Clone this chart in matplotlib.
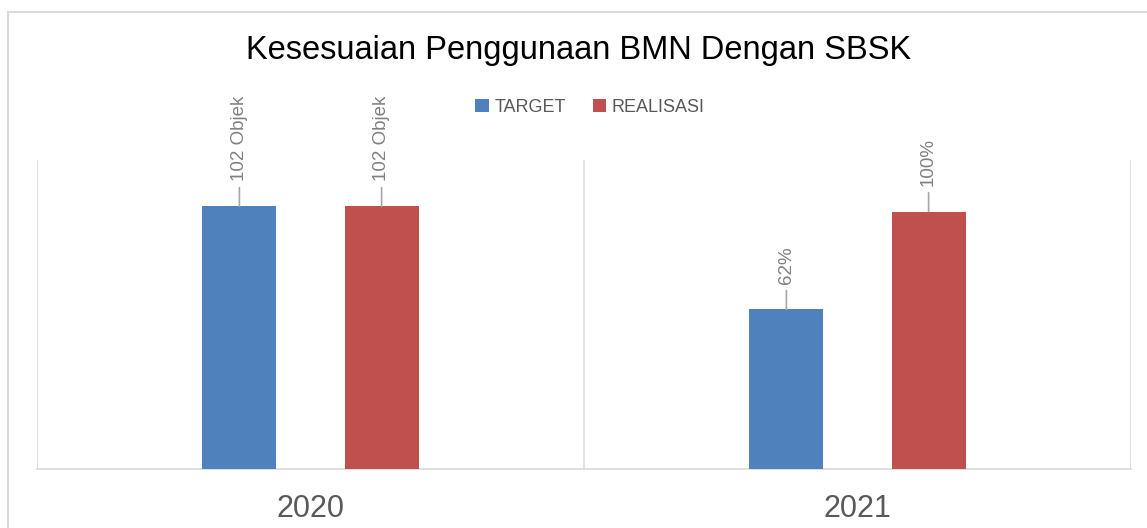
import matplotlib
matplotlib.use("Agg")
import matplotlib.pyplot as plt
from matplotlib.patches import Rectangle
import numpy as np

categories = ["2020", "2021"]
series_names = ["TARGET", "REALISASI"]
target_values = [102, 62]
realisasi_values = [102, 100]
target_labels = ["102 Objek", "62%"]
realisasi_labels = ["102 Objek", "100%"]
title = "Kesesuaian Penggunaan BMN Dengan SBSK"

plt.rcParams['font.family'] = ['Liberation Sans', 'DejaVu Sans']

W, H = 1147, 528
fig = plt.figure(figsize=(W / 100, H / 100), dpi=100)
ax = fig.add_axes([37 / W, (H - 469) / H, (1131 - 37) / W, (469 - 160) / H])

blue = "#4F81BD"
red = "#C0504D"
grid_c = "#D9D9D9"
label_c = "#808080"
text_c = "#595959"

x = np.arange(len(categories))
off = 0.13
bw = 0.135
b1 = ax.bar(x - off, target_values, bw, color=blue, label=series_names[0], zorder=3)
b2 = ax.bar(x + off, realisasi_values, bw, color=red, label=series_names[1], zorder=3)

ax.set_xlim(-0.5, 1.5)
ax.set_ylim(0, 120)
for b in [-0.5, 0.5, 1.5]:
    ax.axvline(b, color=grid_c, lw=1.2, zorder=1)
for s in ["top", "left", "right"]:
    ax.spines[s].set_visible(False)
ax.spines["bottom"].set_color(grid_c)
ax.spines["bottom"].set_linewidth(1.2)
ax.set_yticks([])
ax.set_xticks(x)
ax.set_xticklabels(categories, fontsize=22, color=text_c)
ax.tick_params(axis="x", length=0, pad=18)

def add_labels(bars, labels):
    for rect, lab in zip(bars, labels):
        cx = rect.get_x() + rect.get_width() / 2
        top = rect.get_height()
        ax.annotate(lab, xy=(cx, top), xytext=(0, 18.5), textcoords="offset points",
                    rotation=90, ha="center", va="bottom", fontsize=13.5, color=label_c,
                    arrowprops=dict(arrowstyle="-", color="#A6A6A6", lw=1.2,
                                    shrinkA=3, shrinkB=0))

add_labels(b1, target_labels)
add_labels(b2, realisasi_labels)

fig.text(579 / W, 1 - 51 / H, title, ha="center", va="center", fontsize=23.5, color="#000000")

leg = fig.legend(handles=[b1, b2], loc="center", bbox_to_anchor=(590 / W, 1 - 107 / H),
                 ncol=2, frameon=False, fontsize=13, handlelength=0.75, handleheight=0.75,
                 handletextpad=0.3, columnspacing=1.5, labelcolor=text_c)

fig.patches.append(Rectangle((8 / W, -0.1), 1.2, 1.1 - 12 / H, transform=fig.transFigure,
                             fill=False, edgecolor=grid_c, lw=1.5))

fig.savefig("out.png", dpi=100)
